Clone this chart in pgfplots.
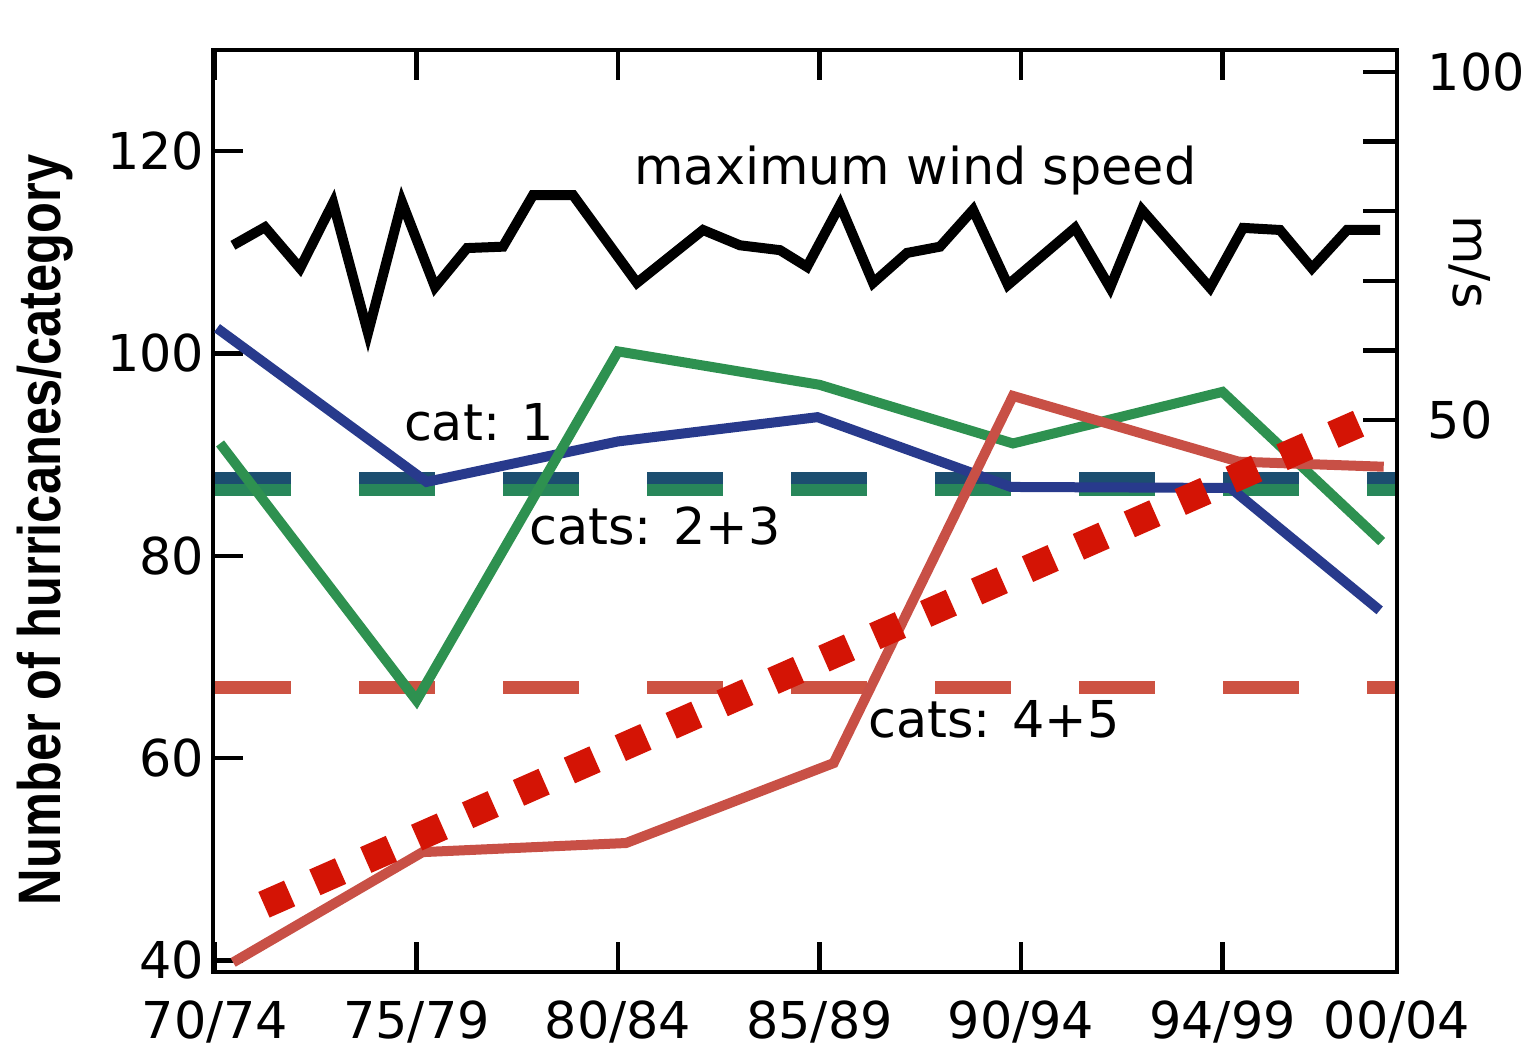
\documentclass[border=0pt]{standalone}
\usepackage{pgfplots}
\pgfplotsset{compat=1.18}
\usepackage{fontspec}
\setmainfont{DejaVu Sans}
\newfontfamily\labfont{Liberation Sans}
\definecolor{cblue}{RGB}{40,58,140}
\definecolor{cgreen}{RGB}{46,145,80}
\definecolor{cred}{RGB}{200,80,70}
\definecolor{credd}{RGB}{205,82,66}
\definecolor{cbluedash}{RGB}{28,78,112}
\definecolor{cgreendash}{RGB}{40,135,90}
\definecolor{cdot}{RGB}{212,20,5}
\newcommand{\tf}{\fontsize{12.7}{15}\selectfont}
\begin{document}
\begin{tikzpicture}
\path (-53.25pt,-18.5pt) rectangle (329pt,243pt);
\begin{axis}[
  at={(0pt,0pt)}, anchor=south west,
  scale only axis, width=296pt, height=230.5pt,
  xmin=-0.01, xmax=5.866, ymin=38.85, ymax=130,
  xtick={0,1,2,3,4,5,5.866},
  xticklabels={70/74,75/79,80/84,85/89,90/94,94/99,00/04},
  ytick={40,60,80,100,120},
  yticklabels={40,60,80,100,120},
  ytick pos=left, xtick pos=both,
  tick align=inside, major tick length=7.5pt,
  axis line style={line width=1.2pt},
  tick style={line width=1.1pt, black},
  ticklabel style={font=\tf},
  /pgf/number format/assume math mode=true,
  xticklabel style={anchor=north, inner sep=0pt, yshift=-7pt},
  yticklabel style={anchor=east, inner sep=0pt, xshift=-2pt},
  clip=false,
]
% dashed reference lines
\addplot[cbluedash, line width=3pt, dash pattern=on 19pt off 17pt] coordinates {(0,87.7) (5.866,87.7)};
\addplot[cgreendash, line width=3pt, dash pattern=on 19pt off 17pt] coordinates {(0,86.5) (5.866,86.5)};
\addplot[credd, line width=3.2pt, dash pattern=on 19pt off 17pt] coordinates {(0,67.0) (5.866,67.0)};
% cat 1
\addplot[cblue, line width=2.5pt] coordinates {
 (0.01,102.5) (1.05,87.3) (2.0,91.3) (2.99,93.7) (3.95,86.8) (5.04,86.7) (5.78,74.6)};
% cats 2+3
\addplot[cgreen, line width=2.5pt] coordinates {
 (0.025,91.1) (1.0,65.7) (2.0,100.2) (3.0,96.9) (3.96,91.1) (5.0,96.2) (5.79,81.4)};
% cats 4+5
\addplot[cred, line width=2.5pt] coordinates {
 (0.09,39.8) (1.03,50.7) (2.04,51.6) (3.07,59.5) (3.96,95.8) (5.08,89.3) (5.80,88.8)};
% trend
\addplot[cdot, line width=7pt, line cap=butt, dash pattern=on 7pt off 6.9pt] coordinates {(0.243,45.5) (5.68,93.1)};
\end{axis}
\begin{axis}[
  at={(0pt,0pt)}, anchor=south west,
  scale only axis, width=296pt, height=230.5pt,
  xmin=-0.01, xmax=5.866, ymin=-29.31, ymax=103.16,
  axis x line=none, axis y line*=right,
  ytick={50,60,70,80,90,100},
  yticklabels={50,,,,,100},
  tick align=inside, major tick length=8.5pt,
  axis line style={line width=1.2pt, -},
  tick style={line width=1.1pt, black},
  ticklabel style={font=\tf},
  yticklabel style={anchor=west, inner sep=0pt, xshift=7.5pt},
]
\addplot[black, line width=2.5pt] coordinates {
 (0.089,75.1) (0.248,77.7) (0.422,71.8) (0.586,81.2) (0.759,62.5) (0.928,81.3)
 (1.092,69.1) (1.251,74.7) (1.429,74.9) (1.578,82.3) (1.777,82.3) (2.094,69.7)
 (2.422,77.3) (2.605,75.1) (2.804,74.4) (2.938,72.0) (3.102,80.9) (3.266,69.7)
 (3.434,74.0) (3.598,74.9) (3.762,80.2) (3.935,69.4) (4.268,77.6) (4.442,69.0)
 (4.600,80.2) (4.938,69.0) (5.102,77.6) (5.285,77.3) (5.444,71.8) (5.618,77.3)
 (5.782,77.3)};
\end{axis}
\node[font=\tf, anchor=base] at (175.6pt,196.75pt) {maximum wind speed};
\node[font=\tf, anchor=base] at (66.5pt,132.75pt) {cat: 1};
\node[font=\tf, anchor=base] at (110.5pt,106.75pt) {cats: 2+3};
\node[font=\tf, anchor=base] at (195.25pt,58.5pt) {cats: 4+5};
\node[font=\tf, rotate=-90] at (314.25pt,177.5pt) {m/s};
\node[rotate=90] at (-42pt,110.5pt) {\scalebox{0.843}[1]{\labfont\bfseries\fontsize{15}{18}\selectfont Number of hurricanes/category}};
\end{tikzpicture}
\end{document}
